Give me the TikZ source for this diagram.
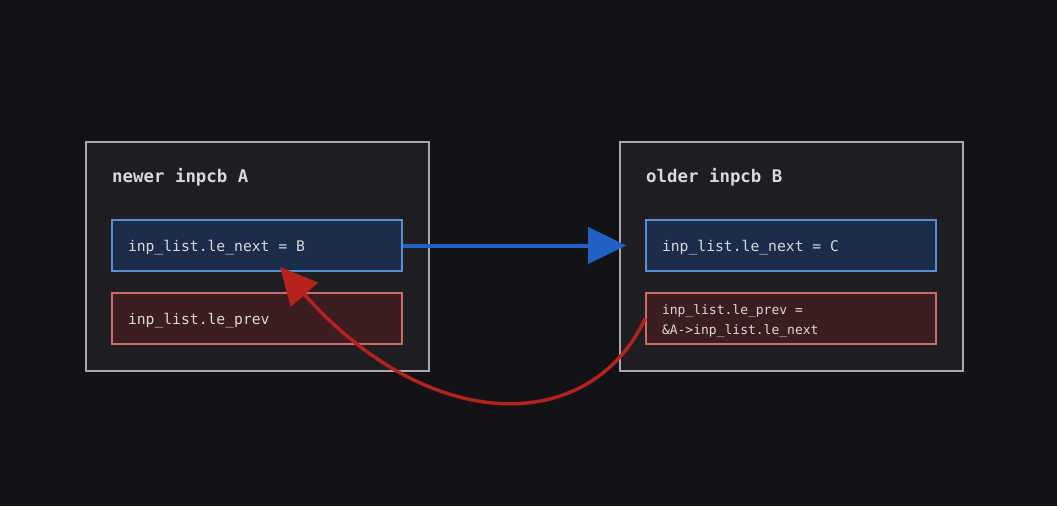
\documentclass[tikz,border=0pt]{standalone}
\usepackage{fontspec}
\setmonofont{DejaVu Sans Mono}
\usepackage{tikz}
\usetikzlibrary{arrows.meta}
\definecolor{bg}{HTML}{131317}
\definecolor{boxfill}{HTML}{1E1E23}
\definecolor{boxline}{HTML}{A9A9AD}
\definecolor{nextfill}{HTML}{1B2D4A}
\definecolor{nextline}{HTML}{5B8ED0}
\definecolor{prevfill}{HTML}{3C1D20}
\definecolor{prevline}{HTML}{CF6A6A}
\definecolor{txt}{HTML}{D9D9DC}
\definecolor{nextarrow}{HTML}{2161C6}
\definecolor{prevarrow}{HTML}{B6231C}
\tikzset{
  field/.style={line width=1.6pt,minimum width=290pt,minimum height=51pt,text width=258pt,inner xsep=16pt,align=left,text=txt,font=\ttfamily\fontsize{14.7}{18}\selectfont,
    execute at begin node={\spaceskip=0.602em\relax\xspaceskip=0.602em\relax}},
  nextfield/.style={field,draw=nextline,fill=nextfill},
  prevfield/.style={field,draw=prevline,fill=prevfill}
}

\begin{document}
\begin{tikzpicture}[x=1pt,y=-1pt]
				\fill[bg] (0,0) rectangle (1057,506);
				\useasboundingbox (0,0) rectangle (1057,506);
				\begin{scope}[every node/.style={draw=boxline,fill=boxfill,line width=2pt,minimum width=343pt,minimum height=229pt}]
					\node (A) at (257.5,256.5) {};
					\node (B) at (791.5,256.5) {};
				\end{scope}
				\begin{scope}[every node/.style={anchor=west,inner sep=0pt,text=txt,font=\ttfamily\bfseries\fontsize{17.4}{20}\selectfont}]
					\node (A_title) at (112,177) {newer inpcb A};
					\node (B_title) at (646,177) {older inpcb B};
				\end{scope}

				\node[nextfield,text height=12pt,text depth=0pt] (A_next) at (257,245.5) {inp\_list.le\_next = B};
				\node[prevfield,text height=12pt,text depth=0pt] (A_prev) at (257,318.5) {inp\_list.le\_prev};
				\node[nextfield,text height=12pt,text depth=0pt] (B_next) at (791,245.5) {inp\_list.le\_next = C};
				\node[prevfield,text height=12pt,text depth=21pt,font=\ttfamily\fontsize{13}{20}\selectfont] (B_prev) at (791,318.5) {inp\_list.le\_prev =\\\&A->inp\_list.le\_next};

				\coordinate (A_hit) at (280,267);
				\begin{scope}[]
					\draw[nextarrow,line width=4pt,-{Triangle[length=38pt,width=36pt]},shorten >=19pt] (A_next.east) -- (B_next.west);
					\draw[prevarrow,line width=3.4pt,-{Triangle[length=37pt,width=36pt]}] (B_prev.west) .. controls (590,436) and (430,436) .. (A_hit);
				\end{scope}
			\end{tikzpicture}
\end{document}
